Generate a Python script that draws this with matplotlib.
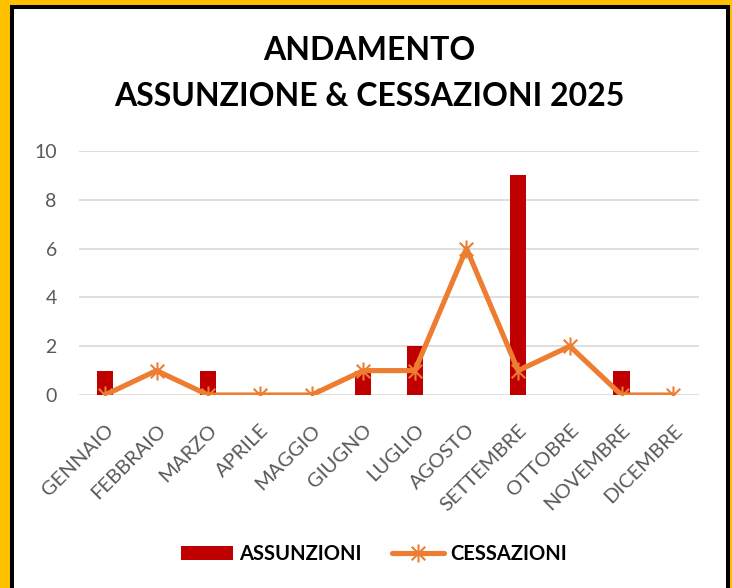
import numpy as np
import matplotlib
matplotlib.use('agg')
import matplotlib.pyplot as plt
from matplotlib.patches import Rectangle
from matplotlib.path import Path

plt.rcParams['font.family'] = ['Lato', 'DejaVu Sans']

mesi = ['GENNAIO', 'FEBBRAIO', 'MARZO', 'APRILE', 'MAGGIO', 'GIUGNO',
        'LUGLIO', 'AGOSTO', 'SETTEMBRE', 'OTTOBRE', 'NOVEMBRE', 'DICEMBRE']
assunzioni = [1, 0, 1, 0, 0, 1, 2, 0, 9, 0, 1, 0]
cessazioni = [0, 1, 0, 0, 0, 1, 1, 6, 1, 2, 0, 0]

W, H = 732, 588
fig = plt.figure(figsize=(W / 100, H / 100), dpi=100, facecolor='#FFC000')

# white panel with black frame (bottom edge falls off the picture)
fig.patches.append(Rectangle((12 / W, -0.1), (727.5 - 12) / W, 1 - 7 / H + 0.1,
                             transform=fig.transFigure, facecolor='white',
                             edgecolor='black', linewidth=2.9, zorder=-5))

ax = fig.add_axes([79 / W, 1 - 395 / H, 620 / W, (395 - 151) / H])
ax.set_facecolor('none')

x = np.arange(len(mesi))
bars = ax.bar(x, assunzioni, width=0.31, color='#C00000', zorder=2, label='ASSUNZIONI')

# Excel style star marker: vertical bar + cross
star = Path([(0, -1), (0, 1), (-0.75, -0.75), (0.75, 0.75), (-0.75, 0.75), (0.75, -0.75)],
            [Path.MOVETO, Path.LINETO] * 3)
line, = ax.plot(x, cessazioni, color='#ED7D31', linewidth=3.7, solid_capstyle='round',
                marker=star, markersize=13, markeredgewidth=1.5, markerfacecolor='none',
                markeredgecolor='#ED7D31', zorder=3, label='CESSAZIONI')

ax.set_xlim(-0.5, len(mesi) - 0.5)
ax.set_ylim(0, 10)
ax.set_yticks(range(0, 11, 2))
ax.grid(axis='y', color='#D9D9D9', linewidth=1.2, zorder=0)
ax.set_axisbelow(True)
for s in ax.spines.values():
    s.set_visible(False)
ax.tick_params(length=0)
ax.tick_params(axis='y', pad=16, labelsize=14, labelcolor='#595959')
ax.set_xticks(x)
ax.set_xticklabels(mesi, rotation=45, ha='right', va='top', rotation_mode='anchor',
                   fontsize=14.5, color='#595959')
ax.tick_params(axis='x', pad=19)

fig.text(0.505, 1 - 50 / H, 'ANDAMENTO', ha='center', va='center',
         fontsize=23, fontweight='bold')
fig.text(0.505, 1 - 97 / H, 'ASSUNZIONE & CESSAZIONI 2025', ha='center', va='center',
         fontsize=23, fontweight='bold')

fig.legend([bars, line], ['ASSUNZIONI', 'CESSAZIONI'], loc='center',
           bbox_to_anchor=(374 / W, 1 - 554 / H), ncol=2, frameon=False,
           prop={'weight': 'bold', 'size': 14.5}, handlelength=2.6, handletextpad=0.3,
           columnspacing=1.5)

fig.savefig('out.png', dpi=100, facecolor=fig.get_facecolor())
